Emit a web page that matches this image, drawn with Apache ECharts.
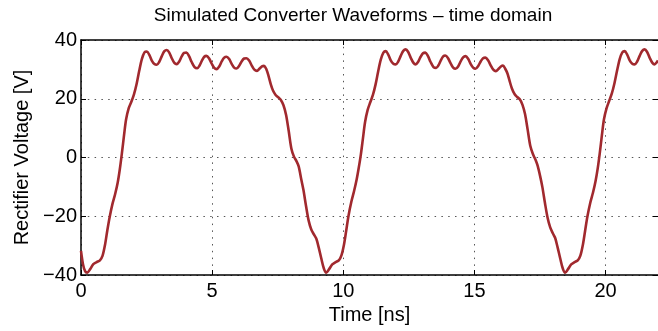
<!DOCTYPE html>
<html>
<head>
<meta charset="utf-8">
<script src="https://cdn.jsdelivr.net/npm/echarts@6/dist/echarts.min.js"></script>
<style>
html,body{margin:0;padding:0;background:#fff;}
#chart{width:658px;height:331px;}
</style>
</head>
<body>
<div id="chart"></div>
<script>
// Time samples [ns]
var times = [
0.00,0.08,0.16,0.24,0.35,0.47,0.60,0.72,0.82,0.92,1.00,1.09,1.20,1.30,1.40,1.48,1.56,1.64,1.72,1.82,
1.92,2.02,2.12,2.22,2.32,2.42,2.51,2.60,2.70,2.80,2.89,2.98,3.08,3.18,3.27,3.36,3.46,3.56,3.65,3.74,
3.84,3.93,4.02,4.12,4.22,4.33,4.43,4.52,4.61,4.70,4.78,4.88,4.98,5.08,5.17,5.27,5.37,5.46,5.55,5.65,
5.75,5.85,5.93,6.03,6.13,6.22,6.31,6.41,6.51,6.61,6.71,6.80,6.90,6.98,7.06,7.15,7.24,7.32,7.42,7.52,
7.62,7.72,7.82,7.92,8.02,8.12,8.22,8.30,8.40,8.48,8.58,8.68,8.78,8.88,8.97,9.06,9.16,9.26,9.35,
9.46,9.58,9.71,9.83,9.93,10.03,10.11,10.20,10.31,10.41,10.51,10.59,10.67,10.75,10.83,10.93,11.03,11.13,11.23,11.33,
11.43,11.53,11.62,11.71,11.81,11.91,12.00,12.09,12.19,12.29,12.38,12.47,12.57,12.67,12.76,12.85,12.95,13.04,13.13,13.23,
13.33,13.44,13.54,13.63,13.72,13.81,13.89,13.99,14.09,14.19,14.28,14.38,14.48,14.57,14.66,14.76,14.86,14.96,15.04,15.14,
15.24,15.33,15.42,15.52,15.62,15.72,15.82,15.91,16.01,16.09,16.17,16.26,16.35,16.43,16.53,16.63,16.73,16.83,16.93,17.03,
17.13,17.23,17.33,17.41,17.51,17.59,17.69,17.79,17.89,17.99,18.08,18.17,18.27,18.37,18.46,
18.57,18.69,18.82,18.94,19.04,19.14,19.22,19.31,19.42,19.52,19.62,19.70,19.78,19.86,19.94,20.04,20.14,20.24,20.34,20.44,
20.54,20.64,20.73,20.82,20.92,21.02,21.11,21.20,21.30,21.40,21.49,21.58,21.68,21.78,21.87,21.96,22.00
];
// Rectifier voltage [V]
var volts = [
-31.8,-36.5,-38.8,-39.2,-38.0,-36.3,-35.6,-35.0,-33.5,-29.5,-25.0,-20.4,-15.8,-12.5,-8.5,-4.0,1.5,7.5,13.0,16.8,
19.0,21.5,25.0,29.5,33.5,35.8,36.1,35.0,33.0,31.8,31.6,32.5,34.5,36.2,36.6,35.8,33.8,32.2,31.8,32.6,
34.4,35.6,35.7,34.5,32.5,30.8,30.4,31.3,33.0,34.3,34.6,33.8,32.0,30.5,30.1,31.0,32.8,34.0,34.3,33.5,
31.8,30.5,30.3,31.2,32.8,33.7,33.8,33.0,31.3,29.9,29.5,30.2,31.0,31.2,30.2,27.8,24.8,22.8,21.3,20.5,
19.6,17.8,14.5,9.0,3.1,0.3,-1.3,-3.0,-7.5,-11.0,-16.5,-21.5,-24.5,-26.2,-27.6,-30.5,-34.3,-37.8,-39.2,
-38.0,-36.4,-35.6,-35.0,-33.3,-29.5,-25.0,-19.8,-15.0,-11.5,-7.5,-3.5,1.0,6.5,12.0,16.2,18.8,21.3,24.8,29.3,
33.3,35.7,36.2,35.1,33.1,31.9,31.7,32.6,34.6,36.3,36.8,36.0,34.0,32.3,31.7,32.5,34.3,35.5,35.7,34.5,
32.5,30.8,30.5,31.4,33.1,34.4,34.7,33.9,32.1,30.6,30.2,31.0,32.8,34.1,34.5,33.6,31.8,30.5,30.2,31.1,
32.7,33.8,34.0,33.1,31.4,29.9,29.4,30.1,31.0,31.3,30.3,28.6,25.8,23.5,21.6,20.6,19.8,18.0,14.8,9.5,
4.0,1.2,-0.8,-2.8,-6.5,-10.0,-15.5,-20.5,-23.8,-25.8,-27.4,-30.5,-34.3,-37.8,-39.2,
-38.0,-36.4,-35.6,-35.0,-33.4,-29.5,-25.0,-20.0,-15.3,-12.0,-8.0,-3.8,1.5,7.5,13.0,16.8,19.3,21.8,25.3,29.6,
33.5,35.8,36.2,35.1,33.1,31.9,31.7,32.6,34.6,36.3,36.8,36.0,34.0,32.3,31.7,32.5,33.0
];
var xTicks = [0, 5, 10, 15, 20];
var yTicks = [-40, -20, 0, 20, 40];

var FONT = '"Liberation Sans", Arial, Helvetica, sans-serif';
var data = times.map(function (t, i) { return [t, volts[i]]; });
var dots = { color: '#555', width: 1, type: [1.5, 5.3] };

var chart = echarts.init(document.getElementById('chart'), null, { renderer: 'canvas' });
chart.setOption({
  animation: false,
  backgroundColor: '#fff',
  title: {
    text: 'Simulated Converter Waveforms \u2013 time domain',
    left: 353, top: 6, padding: 0, textAlign: 'center',
    textStyle: { fontFamily: FONT, fontSize: 19, fontWeight: 'normal', color: '#000' }
  },
  grid: { left: 81, right: 0, top: 40, bottom: 56, containLabel: false },
  xAxis: [{
    type: 'value', min: 0, max: 22, interval: 5, position: 'bottom',
    name: 'Time [ns]', nameLocation: 'middle', nameGap: 27,
    nameTextStyle: { fontFamily: FONT, fontSize: 20, color: '#000' },
    axisLine: { show: true, onZero: false, lineStyle: { color: '#000', width: 1.5 } },
    axisTick: { show: true, inside: true, length: 5, lineStyle: { color: '#000', width: 1 } },
    axisLabel: { fontFamily: FONT, fontSize: 20, color: '#000', margin: 6, showMaxLabel: false,
      formatter: function (v) { return xTicks.indexOf(v) >= 0 ? String(v) : ''; } },
    splitLine: { show: true, lineStyle: dots }
  }, {
    type: 'value', min: 0, max: 22, interval: 5, position: 'top',
    axisLine: { show: true, onZero: false, lineStyle: { color: '#000', width: 1.5 } },
    axisTick: { show: true, inside: true, length: 5, lineStyle: { color: '#000', width: 1 } },
    axisLabel: { show: false }, splitLine: { show: false }
  }],
  yAxis: [{
    type: 'value', min: -40, max: 40, interval: 20, position: 'left',
    name: 'Rectifier Voltage [V]', nameLocation: 'middle', nameGap: 47, nameRotate: 90,
    nameTextStyle: { fontFamily: FONT, fontSize: 20, color: '#000' },
    axisLine: { show: true, onZero: false, lineStyle: { color: '#000', width: 1.5 } },
    axisTick: { show: true, inside: true, length: 5, lineStyle: { color: '#000', width: 1 } },
    axisLabel: { fontFamily: FONT, fontSize: 20, color: '#000', margin: 4,
      formatter: function (v) { return yTicks.indexOf(v) >= 0 ? String(v).replace('-', '\u2212') : ''; } },
    splitLine: { show: true, lineStyle: dots }
  }, {
    type: 'value', min: -40, max: 40, interval: 20, position: 'right',
    axisLine: { show: false, onZero: false },
    axisTick: { show: true, inside: true, length: 5, lineStyle: { color: '#000', width: 1 } },
    axisLabel: { show: false }, splitLine: { show: false }
  }],
  series: [{
    type: 'line', xAxisIndex: 0, yAxisIndex: 0, data: data,
    smooth: 0.3, showSymbol: false, symbol: 'none',
    lineStyle: { color: '#a1292e', width: 2.6 }
  }]
});
</script>
</body>
</html>
